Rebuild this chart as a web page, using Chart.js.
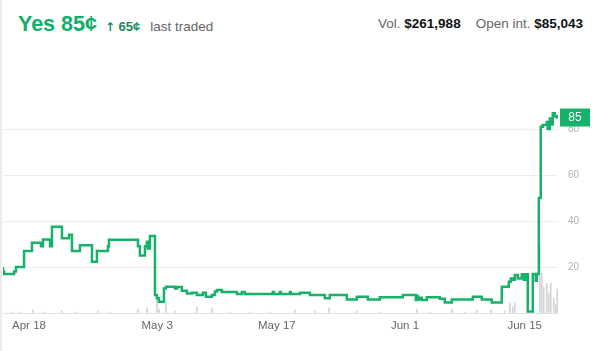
<!DOCTYPE html>
<html>
<head>
<meta charset="utf-8">
<script src="https://cdn.jsdelivr.net/npm/chart.js@4/dist/chart.umd.min.js"></script>
<style>
  body { margin: 0; width: 595px; height: 351px; position: relative; overflow: hidden; background: #fff; font-family: "Liberation Sans", Arial, sans-serif; }
  .edge { position: absolute; left: 0; top: 0; width: 2px; height: 351px; background: #ececec; }
  .head { position: absolute; top: 12px; left: 18px; white-space: nowrap; }
  .yes { font-size: 21.5px; font-weight: bold; color: #0fae69; }
  .chg { font-size: 13px; font-weight: bold; color: #138a5a; margin-left: 8px; }
  .chg .arr { font-family: "DejaVu Sans", sans-serif; font-size: 12px; }
  .last { font-size: 13.5px; color: #666; margin-left: 10px; }
  .stats { position: absolute; top: 16px; right: 12px; font-size: 13.5px; color: #666; white-space: nowrap; }
  .stats b { color: #111; }
  .box { position: absolute; left: 0; top: 40px; }
</style>
</head>
<body>
<div class="edge"></div>
<div class="head"><span class="yes">Yes 85¢</span><span class="chg"><span class="arr">↑</span> 65¢</span><span class="last">last traded</span></div>
<div class="stats">Vol. <b>$261,988</b>&nbsp;&nbsp;&nbsp;&nbsp;Open int. <b>$85,043</b></div>
<div class="box"><canvas id="market-chart" width="595" height="311"></canvas></div>
<script>
// days counted from Apr 18
const priceDays = [-3.04, -2.92, -1.75, -1.52, -0.58, 0.35, 1.40, 1.64, 2.46, 2.69, 3.86, 4.68, 5.03, 5.96, 7.37, 7.95, 9.24, 9.36,
  12.75, 12.98, 13.57, 13.80, 13.92, 14.15, 14.74, 14.97, 15.20, 15.79, 16.02, 17.08, 17.31, 17.89, 18.48, 19.06, 19.65,
  20.35, 20.70, 21.40, 21.75, 21.99, 22.57, 24.33, 24.91, 25.26, 28.54, 28.65, 29.36, 29.47, 30.53, 30.64, 31.70, 32.87,
  34.62, 35.20, 37.19, 38.36, 39.65, 41.05, 43.74, 45.26, 45.38, 45.50, 45.73, 45.96, 46.55, 48.07, 48.65, 49.47, 51.93,
  52.98, 54.15, 55.32, 56.14, 56.37, 56.61, 56.84, 57.19, 57.66, 57.89, 58.13, 58.36, 58.95, 59.30, 59.42, 59.65, 59.88,
  60.12, 60.58, 60.70, 60.94, 61.05, 61.29, 61.52, 61.75, 61.87];
const priceValues = [20, 18, 17, 18, 20, 27, 30.5, 29, 32, 29, 37.5, 32.5, 34, 27, 29.5, 22.3, 27, 29,
  31.8, 29, 25, 29, 31, 28, 33.5, 7.8, 6.4, 4.9, 10.7, 11.4, 10.7, 11.3, 9.7, 8.5, 8.8,
  7.8, 8.8, 7.1, 7.8, 9.3, 10, 9.1, 8.3, 9.1, 8.3, 9.1, 8.3, 9.1, 8.3, 9.1, 8.3, 8.8,
  7.8, 6.4, 7.8, 5.9, 7.1, 5.9, 6.8, 7.8, 5.6, 7.4, 5.9, 6.6, 5.6, 6.8, 6.2, 4.6, 5.9,
  7.1, 5.9, 4.6, 11.4, 13.6, 15, 14.5, 16.5, 15, 16.8, 14.5, 16.8, 0.6, 17, 14, 17, 50,
  81, 81.7, 83, 80, 84.6, 82, 86.8, 85.5, 85];

const volumeDays = [-1.99, -1.05, 0.47, 1.87, 3.86, 5.38, 8.07, 9.47, 12.75, 13.80, 14.97, 15.20, 16.02, 17.08, 19.65,
  21.40, 23.51, 25.85, 28.19, 31.11, 33.45, 35.09, 38.36, 41.05, 45.38, 46.90, 49.47, 50.99, 52.40, 54.04, 55.67,
  56.26, 56.61, 56.84, 58.95, 59.77, 60.00, 60.23, 60.58, 60.82, 61.05, 61.40, 61.64, 61.81];
const volumeValues = [0.4, 0.4, 1.3, 0.4, 0.9, 0.4, 0.9, 0.4, 1.7, 2.2, 6.5, 1.7, 4.3, 0.9, 2.6,
  2.2, 0.4, 0.4, 0.4, 1.3, 0.9, 2.2, 0.9, 0.4, 1.7, 0.4, 1.7, 0.4, 1.3, 1.3, 0.9,
  4.3, 2.6, 4.3, 1.3, 30.4, 17.4, 11.3, 13, 8.7, 13, 6.5, 3.5, 10.4];

const tickDays = [0, 15, 29, 44, 58];
const tickLabels = ["Apr 18", "May 3", "May 17", "Jun 1", "Jun 15"];
const lastPrice = 85;

const green = "#17b26a";

// price tag on the right edge
const priceTag = {
  id: "priceTag",
  afterDatasetsDraw(chart) {
    const { ctx, chartArea, scales } = chart;
    const y = scales.y.getPixelForValue(lastPrice);
    ctx.save();
    ctx.fillStyle = green;
    ctx.fillRect(chartArea.right + 2, y - 9, 30, 18);
    ctx.fillStyle = "#fff";
    ctx.font = "12px 'Liberation Sans', Arial, sans-serif";
    ctx.textAlign = "center";
    ctx.textBaseline = "middle";
    ctx.fillText(String(lastPrice), chartArea.right + 17, y + 0.5);
    ctx.restore();
  }
};

new Chart(document.getElementById("market-chart"), {
  type: "line",
  data: {
    datasets: [
      {
        type: "line",
        data: priceDays.map((d, i) => ({ x: d, y: priceValues[i] })),
        borderColor: green,
        borderWidth: 2.5,
        pointRadius: 0,
        stepped: "after",
        order: 1,
      },
      {
        type: "bar",
        data: volumeDays.map((d, i) => ({ x: d, y: volumeValues[i] })),
        backgroundColor: "#d4d4d4",
        barThickness: 1,
        grouped: false,
        order: 2,
      },
    ],
  },
  options: {
    responsive: false,
    animation: false,
    layout: { padding: { left: 3, top: 43, right: 0, bottom: 0 } },
    plugins: { legend: { display: false }, tooltip: { enabled: false } },
    scales: {
      x: {
        type: "linear",
        offset: false,
        min: -3.04,
        max: 61.9,
        afterBuildTicks: (scale) => {
          scale.ticks = tickDays.map((v) => ({ value: v }));
        },
        afterFit: (scale) => {
          scale.height = 38;
        },
        ticks: {
          autoSkip: false,
          maxRotation: 0,
          padding: 6,
          color: "#666",
          font: { size: 11.5, family: "'Liberation Sans', Arial, sans-serif" },
          callback: (value, index) => tickLabels[index],
        },
        grid: { display: false, drawTicks: false, offset: false },
        border: { display: true, color: "#e2e2e2" },
      },
      y: {
        position: "right",
        min: 0,
        max: 100,
        afterFit: (scale) => {
          scale.width = 37;
        },
        ticks: {
          stepSize: 20,
          padding: 10,
          color: "#b3b3b3",
          font: { size: 10, family: "'Liberation Sans', Arial, sans-serif" },
          callback: (value) => (value === 0 || value === 100 ? "" : value),
        },
        grid: {
          drawTicks: false,
          color: (ctx) => (ctx.tick && (ctx.tick.value === 0 || ctx.tick.value === 100) ? "rgba(0,0,0,0)" : "#ededed"),
        },
        border: { display: false },
      },
    },
  },
  plugins: [priceTag],
});
</script>
</body>
</html>
